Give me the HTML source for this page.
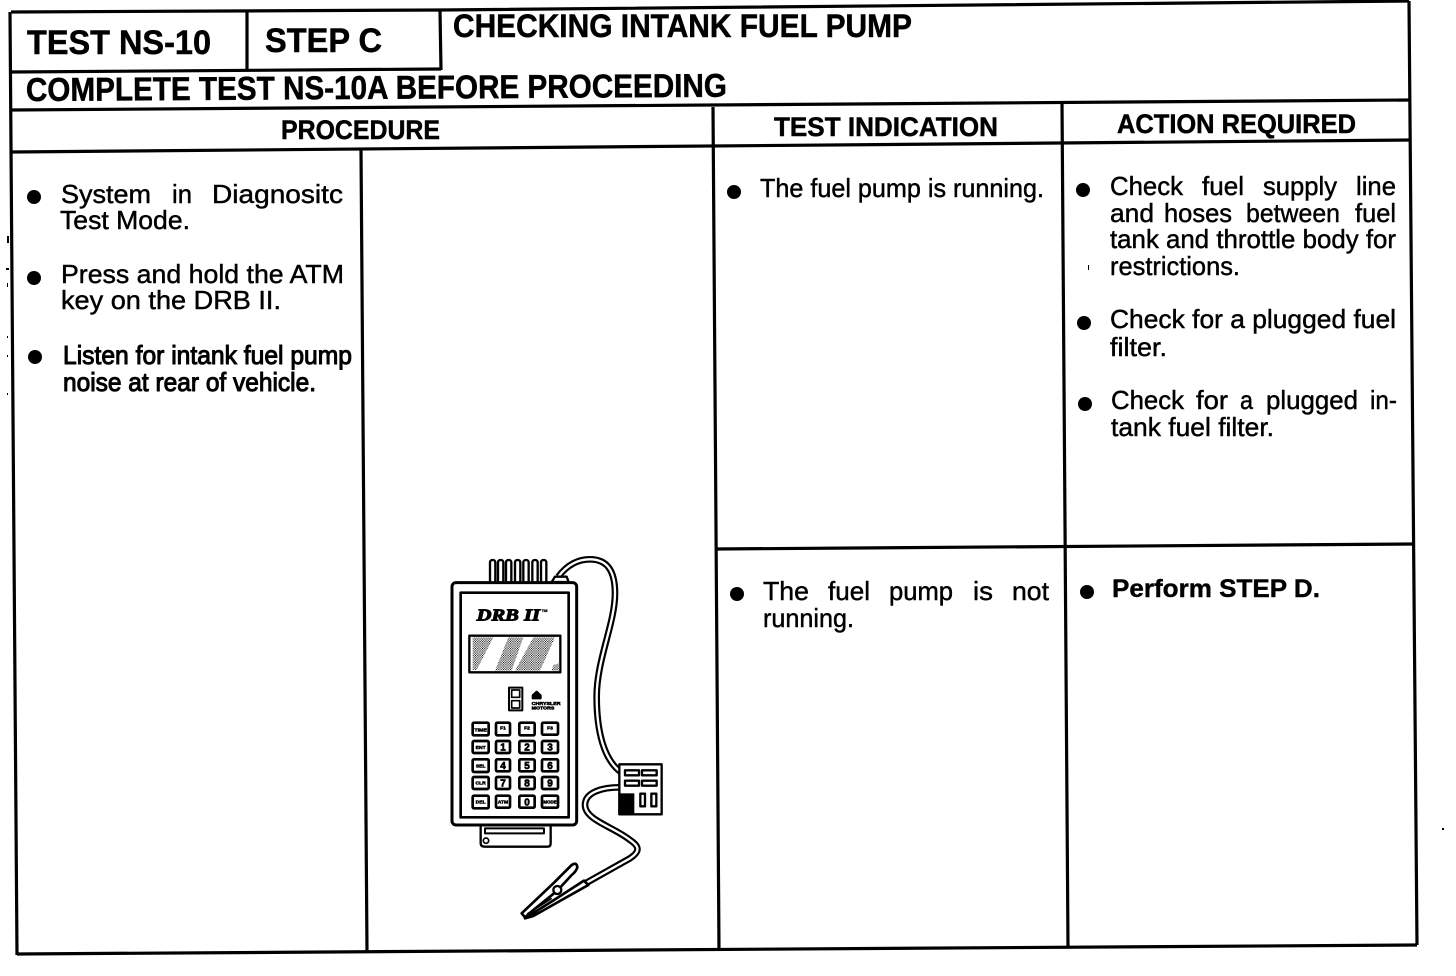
<!DOCTYPE html>
<html><head><meta charset="utf-8"><style>
html,body{margin:0;padding:0;background:#fff}
svg{display:block}
text{font-family:"Liberation Sans",sans-serif;fill:#000}
.h{font-weight:700;stroke:#000;stroke-width:.5px}
.b{font-size:26px;stroke:#000;stroke-width:.45px}
.bb{font-size:26px;stroke:#000;stroke-width:1px}
.pb{font-size:25px;font-weight:700;stroke:#000;stroke-width:.4px}
.k{font-size:15px;font-weight:700;text-anchor:middle;stroke:#000;stroke-width:1.5px}
.n{font-size:30px;font-weight:700;text-anchor:middle;stroke:#000;stroke-width:2px}
</style></head><body>
<svg width="1456" height="976" viewBox="0 0 1456 976" xmlns="http://www.w3.org/2000/svg">
<defs>
<pattern id="d" width="7" height="7" patternUnits="userSpaceOnUse"><rect width="7" height="7" fill="#fff"/><rect width="3" height="3" fill="#000"/><rect x="3.5" y="3.5" width="3" height="3" fill="#000"/></pattern>
</defs>
<g stroke="#000" stroke-width="3.2" fill="none">
<path d="M11 12L440 10L1409 1"/>
<path d="M10 12L17 955"/>
<path d="M1409 1L1417 945"/>
<path d="M17 954L1417 945"/>
<path d="M11 72L441 69"/>
<path d="M247 12L247 71M440 10L441 70"/>
<path d="M11 110L1410 100"/>
<path d="M12 152L1410 140"/>
<path d="M713 107L719 950M1062 102L1068 947M361 150L367 952"/>
<path d="M715 549L1413 544"/>
</g>
<text class="h" x="27" y="54" font-size="34" textLength="184" lengthAdjust="spacingAndGlyphs">TEST NS-10</text>
<text class="h" x="265" y="52" font-size="34" textLength="117" lengthAdjust="spacingAndGlyphs">STEP C</text>
<text class="h" x="453" y="37" font-size="32" textLength="459" lengthAdjust="spacingAndGlyphs">CHECKING INTANK FUEL PUMP</text>
<text class="h" x="26" y="101" font-size="33" textLength="701" lengthAdjust="spacingAndGlyphs" transform="rotate(-.35 26 101)">COMPLETE TEST NS-10A BEFORE PROCEEDING</text>
<text class="h" x="281" y="139" font-size="27" textLength="159" lengthAdjust="spacingAndGlyphs">PROCEDURE</text>
<text class="h" x="774" y="136" font-size="27" textLength="224" lengthAdjust="spacingAndGlyphs">TEST INDICATION</text>
<text class="h" x="1117" y="133" font-size="27" textLength="239" lengthAdjust="spacingAndGlyphs">ACTION REQUIRED</text>

<g fill="#000">
<circle cx="34" cy="197" r="7"/><circle cx="34" cy="278" r="7"/><circle cx="35" cy="357" r="7"/>
<circle cx="734" cy="192" r="7"/><circle cx="737" cy="594" r="7"/>
<circle cx="1083" cy="190" r="7"/><circle cx="1084" cy="323" r="7"/><circle cx="1085" cy="404" r="7"/><circle cx="1087" cy="592" r="7"/>
<rect x="7" y="236" width="2" height="7"/><rect x="6" y="268" width="3" height="2"/><rect x="7" y="283" width="1" height="4"/><rect x="7" y="336" width="1" height="2"/><rect x="7" y="355" width="1" height="2"/><rect x="7" y="393" width="1" height="2"/><rect x="1442" y="828" width="2" height="2"/><rect x="1088" y="265" width="1" height="5"/>
</g>

<text class="b" x="61" y="203" textLength="90" lengthAdjust="spacingAndGlyphs">System</text>
<text class="b" x="172" y="203" textLength="20" lengthAdjust="spacingAndGlyphs">in</text>
<text class="b" x="212" y="203" textLength="131" lengthAdjust="spacingAndGlyphs">Diagnositc</text>
<text class="b" x="60" y="229" textLength="130" lengthAdjust="spacingAndGlyphs">Test Mode.</text>
<text class="b" x="61" y="283" textLength="283" lengthAdjust="spacingAndGlyphs">Press and hold the ATM</text>
<text class="b" x="61" y="309" textLength="220" lengthAdjust="spacingAndGlyphs">key on the DRB II.</text>
<text class="bb" x="63" y="364" textLength="289" lengthAdjust="spacingAndGlyphs">Listen for intank fuel pump</text>
<text class="bb" x="63" y="391" textLength="253" lengthAdjust="spacingAndGlyphs">noise at rear of vehicle.</text>

<text class="b" x="760" y="197" textLength="284" lengthAdjust="spacingAndGlyphs">The fuel pump is running.</text>
<text class="b" x="763" y="600" textLength="46" lengthAdjust="spacingAndGlyphs">The</text>
<text class="b" x="828" y="600" textLength="42" lengthAdjust="spacingAndGlyphs">fuel</text>
<text class="b" x="889" y="600" textLength="64" lengthAdjust="spacingAndGlyphs">pump</text>
<text class="b" x="973" y="600" textLength="20" lengthAdjust="spacingAndGlyphs">is</text>
<text class="b" x="1012" y="600" textLength="37" lengthAdjust="spacingAndGlyphs">not</text>
<text class="b" x="763" y="627" textLength="91" lengthAdjust="spacingAndGlyphs">running.</text>

<text class="b" x="1110" y="195" textLength="73" lengthAdjust="spacingAndGlyphs">Check</text>
<text class="b" x="1202" y="195" textLength="42" lengthAdjust="spacingAndGlyphs">fuel</text>
<text class="b" x="1263" y="195" textLength="74" lengthAdjust="spacingAndGlyphs">supply</text>
<text class="b" x="1356" y="195" textLength="40" lengthAdjust="spacingAndGlyphs">line</text>
<text class="b" x="1110" y="222" textLength="44" lengthAdjust="spacingAndGlyphs">and</text>
<text class="b" x="1164" y="222" textLength="68" lengthAdjust="spacingAndGlyphs">hoses</text>
<text class="b" x="1246" y="222" textLength="94" lengthAdjust="spacingAndGlyphs">between</text>
<text class="b" x="1355" y="222" textLength="41" lengthAdjust="spacingAndGlyphs">fuel</text>
<text class="b" x="1110" y="248" textLength="286" lengthAdjust="spacingAndGlyphs">tank and throttle body for</text>
<text class="b" x="1110" y="275" textLength="130" lengthAdjust="spacingAndGlyphs">restrictions.</text>
<text class="b" x="1110" y="328" textLength="286" lengthAdjust="spacingAndGlyphs">Check for a plugged fuel</text>
<text class="b" x="1110" y="356" textLength="57" lengthAdjust="spacingAndGlyphs">filter.</text>
<text class="b" x="1111" y="409" textLength="73" lengthAdjust="spacingAndGlyphs">Check</text>
<text class="b" x="1196" y="409" textLength="32" lengthAdjust="spacingAndGlyphs">for</text>
<text class="b" x="1240" y="409" textLength="13" lengthAdjust="spacingAndGlyphs">a</text>
<text class="b" x="1266" y="409" textLength="92" lengthAdjust="spacingAndGlyphs">plugged</text>
<text class="b" x="1370" y="409" textLength="27" lengthAdjust="spacingAndGlyphs">in-</text>
<text class="b" x="1111" y="436" textLength="163" lengthAdjust="spacingAndGlyphs">tank fuel filter.</text>
<text class="pb" x="1112" y="597" textLength="208" lengthAdjust="spacingAndGlyphs">Perform STEP D.</text>

<g transform="translate(440 550) scale(.33333)" fill="none" stroke="#000" stroke-linejoin="round">
<g stroke-width="7" fill="#fff">
<rect x="150" y="30" width="16" height="70" rx="7"/><rect x="174" y="30" width="16" height="70" rx="7"/><rect x="198" y="30" width="16" height="70" rx="7"/><rect x="225" y="30" width="16" height="70" rx="7"/><rect x="250" y="30" width="16" height="70" rx="7"/><rect x="277" y="30" width="16" height="70" rx="7"/><rect x="303" y="30" width="16" height="70" rx="7"/>
</g>
<path d="M355 80C385 40 420 28 450 28C500 28 525 60 525 130C525 220 470 330 470 440C470 540 490 630 545 668" stroke-width="20"/>
<path d="M355 80C385 40 420 28 450 28C500 28 525 60 525 130C525 220 470 330 470 440C470 540 490 630 545 668" stroke="#fff" stroke-width="7"/>
<path d="M540 712C490 712 435 725 435 765C435 810 520 830 570 870C600 890 600 905 570 925L440 998" stroke-width="20"/>
<path d="M540 712C490 712 435 725 435 765C435 810 520 830 570 870C600 890 600 905 570 925L440 998" stroke="#fff" stroke-width="7"/>
<path d="M335 96L345 80H380L386 96Z" fill="#fff" stroke-width="7"/>
<path d="M122 825V880Q122 890 135 890H322Q332 890 332 880V825" stroke-width="7" fill="#fff"/>
<path d="M135 850V835H312V850Z" stroke-width="6"/>
<circle cx="138" cy="872" r="8" stroke-width="5"/>
<rect x="36" y="98" width="374" height="727" rx="12" stroke-width="9" fill="#fff"/>
<rect x="62" y="128" width="324" height="674" stroke-width="8"/>
<text x="110" y="211" font-size="50" font-weight="700" font-style="italic" textLength="190" lengthAdjust="spacingAndGlyphs" stroke-width="3" style="font-family:'Liberation Serif',serif">DRB II</text>
<text x="305" y="186" font-size="12" font-weight="700">TM</text>
<rect x="88" y="257" width="273" height="110" stroke-width="7" fill="#fff"/>
<path d="M98 262H160L110 360H98ZM205 262H250L215 362H165ZM280 262H345L300 362H225ZM340 345L358 340V362H335Z" fill="url(#d)" stroke="none"/>
<rect x="207" y="413" width="40" height="68" stroke-width="6"/>
<rect x="215" y="420" width="24" height="22" stroke-width="5"/><rect x="215" y="452" width="24" height="22" stroke-width="5"/>
<path d="M290 425L302 436V445H278V436Z" stroke-width="6" fill="#000"/>
<text x="275" y="465" font-size="13" font-weight="700" textLength="87" lengthAdjust="spacingAndGlyphs" stroke-width="1.5">CHRYSLER</text>
<text x="275" y="479" font-size="13" font-weight="700" textLength="68" lengthAdjust="spacingAndGlyphs" stroke-width="1.5">MOTORS</text>

<g stroke-width="8" fill="#fff">
<rect x="98" y="518" width="48" height="38" rx="4"/><rect x="168" y="518" width="42" height="38" rx="4"/><rect x="238" y="518" width="46" height="38" rx="4"/><rect x="306" y="518" width="48" height="36" rx="4"/>
<rect x="98" y="573" width="48" height="36" rx="4"/><rect x="168" y="573" width="42" height="36" rx="4"/><rect x="238" y="573" width="46" height="36" rx="4"/><rect x="306" y="573" width="48" height="36" rx="4"/>
<rect x="98" y="628" width="48" height="38" rx="4"/><rect x="168" y="628" width="42" height="36" rx="4"/><rect x="238" y="628" width="46" height="36" rx="4"/><rect x="306" y="628" width="48" height="36" rx="4"/>
<rect x="98" y="681" width="48" height="36" rx="4"/><rect x="168" y="681" width="42" height="36" rx="4"/><rect x="238" y="681" width="46" height="36" rx="4"/><rect x="306" y="681" width="48" height="36" rx="4"/>
<rect x="98" y="737" width="48" height="38" rx="4"/><rect x="168" y="737" width="42" height="36" rx="4"/><rect x="238" y="737" width="46" height="36" rx="4"/><rect x="306" y="737" width="48" height="36" rx="4"/>
</g>
<g>
<text class="k" x="122" y="544" textLength="38" lengthAdjust="spacingAndGlyphs">TIME</text><text class="k" x="189" y="538">F1</text><text class="k" x="261" y="538">F2</text><text class="k" x="330" y="538">F3</text>
<text class="k" x="122" y="597">ENT</text><text class="n" x="189" y="602">1</text><text class="n" x="261" y="602">2</text><text class="n" x="330" y="602">3</text>
<text class="k" x="122" y="652">SEL</text><text class="n" x="189" y="657">4</text><text class="n" x="261" y="657">5</text><text class="n" x="330" y="657">6</text>
<text class="k" x="122" y="704">CLR</text><text class="n" x="189" y="710">7</text><text class="n" x="261" y="710">8</text><text class="n" x="330" y="710">9</text>
<text class="k" x="122" y="761">DEL</text><text class="k" x="189" y="761">ATM</text><text class="n" x="261" y="766">0</text><text class="k" x="330" y="761" textLength="40" lengthAdjust="spacingAndGlyphs">MODE</text>
</g>

<rect x="538" y="643" width="127" height="150" stroke-width="7" fill="#fff"/>
<rect x="535" y="730" width="48" height="65" fill="#000" stroke="none"/>
<g stroke-width="7">
<rect x="555" y="661" width="42" height="15"/><rect x="606" y="661" width="44" height="15"/>
<rect x="555" y="692" width="42" height="15"/><rect x="606" y="692" width="44" height="15"/>
<rect x="601" y="731" width="14" height="38"/><rect x="634" y="731" width="15" height="38"/>
</g>

<path d="M245 1090L340 1000L395 945Q410 935 412 952Q408 965 395 975L352 1022L280 1080L255 1102Z" stroke-width="8" fill="#fff"/>
<path d="M255 1105L345 1048L432 992L445 1005L365 1050L280 1098Z" stroke-width="8" fill="#fff"/>
<circle cx="352" cy="1020" r="12" stroke-width="7" fill="#fff"/>
<path d="M262 1092L335 1045" stroke-width="5"/>
</g>
</svg>
</body></html>
